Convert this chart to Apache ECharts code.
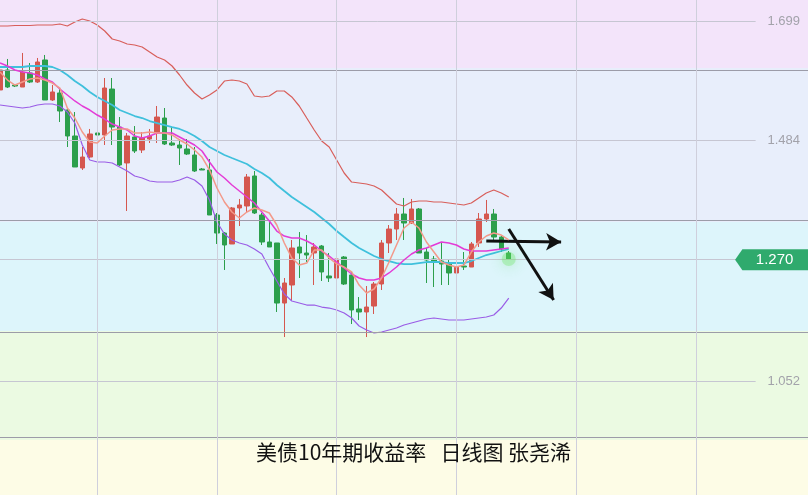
<!DOCTYPE html>
<html><head><meta charset="utf-8">
<script src="https://cdn.jsdelivr.net/npm/echarts@6/dist/echarts.min.js"></script>
<style>html,body{margin:0;padding:0;background:#fff}#c{width:808px;height:495px}</style>
</head><body><div id="c"></div>
<script>
const chartTitle = '美债10年期收益率   日线图 张尧浠';
const slotCount = 109;
const opens = [1.5750,1.6109,1.5839,1.5803,1.6055,1.5893,1.6289,1.5570,1.5696,1.5390,
  1.4923,1.4348,1.4545,1.4977,1.4941,1.5767,1.5084,1.4438,1.4905,1.4671,
  1.4869,1.4977,1.5246,1.4797,1.4761,1.4689,1.4581,1.4330,1.4312,1.3503,
  1.3179,1.2982,1.3629,1.3665,1.4204,1.3503,1.3018,1.3000,1.1921,1.2245,
  1.2928,1.2820,1.2820,1.2946,1.2407,1.2371,1.2748,1.2425,1.1814,1.1760,
  1.1867,1.2263,1.3000,1.3251,1.3521,1.3359,1.3611,1.2838,1.2712,1.2676,
  1.2622,1.2461,1.2586,1.2568,1.3000,1.3431,1.3521,1.3107,1.2820];
const closes = [1.6109,1.5803,1.5821,1.6073,1.5893,1.6253,1.5570,1.5714,1.5372,1.4923,
  1.4366,1.4545,1.4959,1.4941,1.5785,1.5084,1.4402,1.4923,1.4653,1.4887,
  1.4923,1.5264,1.4779,1.4761,1.4707,1.4599,1.4294,1.4312,1.3503,1.3179,
  1.2964,1.3629,1.3683,1.4186,1.3539,1.3018,1.2928,1.1921,1.2281,1.2910,
  1.2820,1.2784,1.2928,1.2479,1.2371,1.2712,1.2263,1.1796,1.1760,1.1849,
  1.2263,1.3000,1.3251,1.3521,1.3359,1.3611,1.2820,1.2694,1.2676,1.2622,
  1.2461,1.2568,1.2568,1.2982,1.3431,1.3521,1.3107,1.2892,1.2712];
const lows = [1.5714,1.5785,1.5803,1.5803,1.5875,1.5875,1.5570,1.5552,1.5174,1.4725,
  1.4366,1.4312,1.4527,1.4833,1.4761,1.4761,1.4384,1.3575,1.4617,1.4617,
  1.4797,1.4797,1.4761,1.4743,1.4402,1.4581,1.4276,1.4312,1.3503,1.2982,
  1.2515,1.2982,1.3305,1.3539,1.3521,1.2964,1.2928,1.1760,1.1310,1.1975,
  1.2371,1.2658,1.2245,1.2317,1.2299,1.2335,1.2245,1.1544,1.1616,1.1310,
  1.1724,1.2155,1.2820,1.3054,1.3054,1.3341,1.2820,1.2281,1.2209,1.2245,
  1.2245,1.2281,1.2515,1.2568,1.2928,1.3377,1.3054,1.2838,1.2694];
const highs = [1.6253,1.6307,1.5857,1.6415,1.6235,1.6325,1.6379,1.5839,1.5767,1.5426,
  1.5354,1.4725,1.5049,1.5156,1.5965,1.5965,1.5264,1.4977,1.5102,1.4995,
  1.5049,1.5462,1.5426,1.5084,1.4869,1.4869,1.4725,1.4348,1.4509,1.3539,
  1.3197,1.3647,1.3791,1.4240,1.4294,1.3539,1.3395,1.3000,1.2371,1.3054,
  1.3197,1.3143,1.3000,1.2964,1.2820,1.2874,1.2766,1.2479,1.2029,1.2227,
  1.2299,1.3054,1.3323,1.3629,1.3809,1.3791,1.3629,1.2910,1.2766,1.3018,
  1.2694,1.2622,1.2838,1.3018,1.3539,1.3773,1.3611,1.3143,1.2856];
const ma5 = [1.6073,1.5929,1.5839,1.5893,1.5947,1.5965,1.5929,1.5875,1.5785,1.5426,
  1.5246,1.4995,1.4815,1.4797,1.4923,1.5031,1.5049,1.5049,1.4977,1.4977,
  1.4995,1.4977,1.4977,1.4941,1.4851,1.4779,1.4671,1.4545,1.4312,1.3988,
  1.3737,1.3557,1.3449,1.3557,1.3629,1.3593,1.3539,1.3323,1.3000,1.2730,
  1.2604,1.2640,1.2874,1.2874,1.2730,1.2622,1.2568,1.2479,1.2245,1.2101,
  1.2173,1.2371,1.2658,1.2964,1.3269,1.3377,1.3269,1.3018,1.2838,1.2658,
  1.2604,1.2568,1.2604,1.2838,1.3018,1.3125,1.3179,1.3143,1.3054];
const ma10 = [1.6235,1.6181,1.6109,1.6073,1.6055,1.6019,1.5947,1.5893,1.5767,1.5660,
  1.5552,1.5462,1.5390,1.5300,1.5228,1.5138,1.5084,1.5031,1.4923,1.4887,
  1.4923,1.4977,1.4977,1.4977,1.4905,1.4833,1.4761,1.4653,1.4456,1.4276,
  1.4168,1.4042,1.3934,1.3827,1.3719,1.3557,1.3395,1.3215,1.3125,1.3089,
  1.3089,1.3036,1.2964,1.2856,1.2766,1.2658,1.2550,1.2443,1.2371,1.2335,
  1.2335,1.2371,1.2461,1.2568,1.2694,1.2802,1.2874,1.2910,1.2964,1.3018,
  1.3000,1.2964,1.2892,1.2856,1.2856,1.2856,1.2874,1.2892,1.2910];
const bollMid = [1.6163,1.6163,1.6163,1.6163,1.6181,1.6181,1.6181,1.6163,1.6109,1.6019,
  1.5911,1.5821,1.5714,1.5624,1.5552,1.5480,1.5390,1.5336,1.5282,1.5246,
  1.5192,1.5156,1.5120,1.5084,1.5049,1.4995,1.4923,1.4833,1.4725,1.4653,
  1.4581,1.4527,1.4474,1.4420,1.4330,1.4258,1.4168,1.4042,1.3934,1.3827,
  1.3737,1.3647,1.3557,1.3449,1.3341,1.3215,1.3107,1.3000,1.2910,1.2838,
  1.2766,1.2712,1.2676,1.2640,1.2622,1.2622,1.2640,1.2658,1.2658,1.2658,
  1.2640,1.2640,1.2640,1.2676,1.2730,1.2784,1.2820,1.2856,1.2892];
const bollUpper = [1.6900,1.6900,1.6909,1.6909,1.6909,1.6918,1.6918,1.6918,1.6936,1.6900,
  1.6972,1.7026,1.6990,1.6918,1.6810,1.6666,1.6630,1.6576,1.6558,1.6522,
  1.6432,1.6343,1.6289,1.6181,1.6019,1.5839,1.5696,1.5588,1.5660,1.5750,
  1.5911,1.5929,1.5911,1.5857,1.5642,1.5624,1.5642,1.5732,1.5732,1.5624,
  1.5462,1.5246,1.5031,1.4833,1.4725,1.4492,1.4258,1.4096,1.4078,1.4060,
  1.4024,1.3952,1.3827,1.3701,1.3665,1.3737,1.3755,1.3755,1.3737,1.3737,
  1.3719,1.3701,1.3683,1.3719,1.3809,1.3898,1.3952,1.3898,1.3827];
const bollLower = [1.5480,1.5462,1.5444,1.5426,1.5444,1.5480,1.5498,1.5498,1.5462,1.5354,
  1.5156,1.4761,1.4492,1.4456,1.4456,1.4438,1.4366,1.4294,1.4204,1.4168,
  1.4114,1.4096,1.4096,1.4096,1.4132,1.4186,1.4132,1.4024,1.3773,1.3377,
  1.3161,1.3054,1.3000,1.2964,1.2892,1.2802,1.2550,1.2317,1.2083,1.1957,
  1.1921,1.1885,1.1885,1.1849,1.1831,1.1796,1.1742,1.1652,1.1508,1.1436,
  1.1382,1.1400,1.1436,1.1472,1.1526,1.1562,1.1598,1.1634,1.1652,1.1634,
  1.1616,1.1616,1.1616,1.1634,1.1652,1.1670,1.1706,1.1831,1.2011];
const tickLabels = [1.052, 1.270, 1.484, 1.699];
const lastPrice = 1.270;
const axisMin = 0.8471, axisMax = 1.7367;
const bandEdges = [0.9460, 1.1419, 1.3377, 1.6145];
const bandColors = ['#fdfce6', '#ebfae2', '#ddf5fb', '#e8eefb', '#f3e4fa'];
const vLineSlots = [13, 29, 45, 61, 77, 93];
// arrows: [startSlot, startValue, endSlot, endValue]
const arrowFlat = [65, 1.3036, 75, 1.3018];
const arrowDown = [68, 1.3251, 74, 1.1975];

const categories = Array.from({length: slotCount}, (_, i) => String(i + 1));
const candles = opens.map((o, i) => [o, closes[i], lows[i], highs[i]]);

const edges = [axisMin].concat(bandEdges, [axisMax]);
const bandAreas = bandColors.map((c, i) => [
  {yAxis: edges[i], itemStyle: {color: c}}, {yAxis: edges[i + 1]}
]);

const gridLines = [];
tickLabels.forEach(v => gridLines.push([{coord: [0, v], lineStyle: {color: '#c6c6d2', width: 1, type: 'solid'}}, {coord: [101, v]}]));
bandEdges.forEach(v => gridLines.push({yAxis: v, lineStyle: {color: '#9c9ca8', width: 1, type: 'solid'}}));
vLineSlots.forEach(s => gridLines.push({xAxis: s, lineStyle: {color: '#cfcfdc', width: 1, type: 'solid'}}));

function lineSeries(name, data, color, width, z) {
  return {name, type: 'line', data, symbol: 'none', smooth: false, z,
    lineStyle: {color, width}, itemStyle: {color}, silent: true};
}

const chart = echarts.init(document.getElementById('c'), null, {renderer: 'canvas'});
chart.setOption({
  animation: false,
  backgroundColor: '#ffffff',
  title: {text: chartTitle, left: 251, top: 437,
    textStyle: {fontFamily: 'Noto Sans CJK SC', fontSize: 21, fontWeight: 'normal', color: '#111'}},
  grid: {left: 0, right: 0, top: 0, bottom: 0, containLabel: false},
  xAxis: {type: 'category', data: categories, boundaryGap: false,
    axisLine: {show: false}, axisTick: {show: false}, axisLabel: {show: false}, splitLine: {show: false}},
  yAxis: {type: 'value', position: 'right', min: axisMin, max: axisMax, z: 10,
    axisLine: {show: false}, splitLine: {show: false},
    axisTick: {show: false, customValues: tickLabels},
    axisLabel: {inside: true, margin: 8, customValues: tickLabels, color: '#a2a2aa',
      fontFamily: 'Liberation Sans', fontSize: 13,
      formatter: v => (Math.abs(v - lastPrice) < 1e-6 ? '' : Number(v).toFixed(3))}},
  series: [
    {name: 'bg', type: 'line', data: [], z: 1, silent: true,
      markArea: {silent: true, data: bandAreas}},
    {name: 'grid', type: 'line', data: [], z: 2, silent: true,
      markLine: {silent: true, symbol: 'none', label: {show: false},
        lineStyle: {type: 'solid'}, data: gridLines}},
    {name: 'K', type: 'candlestick', data: candles, z: 3, barWidth: 5,
      itemStyle: {color: '#d5574f', color0: '#2c9f4c', borderColor: '#d5574f', borderColor0: '#2c9f4c', borderWidth: 1}},
    lineSeries('UP', bollUpper, '#d85e5a', 1.2, 4),
    lineSeries('DN', bollLower, '#9a5ce6', 1.2, 4),
    lineSeries('MID', bollMid, '#3fc0dc', 1.8, 4),
    lineSeries('MA10', ma10, '#e43bd6', 1.5, 5),
    lineSeries('MA5', ma5, '#f3998a', 1.5, 5),
    {name: 'notes', type: 'line', data: [], z: 8, silent: true,
      markLine: {silent: true, symbol: ['none', 'arrow'], symbolSize: [13, 15], label: {show: false},
        lineStyle: {color: '#111', width: 3, type: 'solid'},
        data: [
          [{coord: [arrowFlat[0], arrowFlat[1]]}, {coord: [arrowFlat[2], arrowFlat[3]]}],
          [{coord: [arrowDown[0], arrowDown[1]]}, {coord: [arrowDown[2], arrowDown[3]]}]
        ]},
      markPoint: {silent: true, data: [
        {coord: [opens.length - 1, closes[closes.length - 1]], symbol: 'circle', symbolSize: 14,
          itemStyle: {color: 'rgba(110,230,100,0.35)', shadowBlur: 14, shadowColor: 'rgba(80,220,80,0.9)'},
          label: {show: false}},
        {coord: [103, lastPrice], value: lastPrice.toFixed(3),
          symbol: 'path://M0,10 L8,0 L80,0 L80,20 L8,20 Z', symbolSize: [73, 21], symbolKeepAspect: false,
          symbolOffset: [1, 0],
          itemStyle: {color: '#2faa6d'},
          label: {show: true, position: 'inside', offset: [3, 0], color: '#fff', fontSize: 15,
            fontFamily: 'Liberation Sans', formatter: p => p.value}}
      ]}}
  ]
});
</script></body></html>
